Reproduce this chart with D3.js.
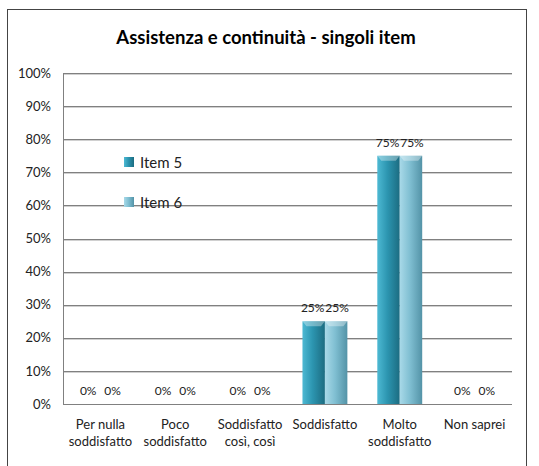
<!DOCTYPE html>
<meta charset="utf-8">
<style>
body { margin: 0; background: #fff; }
text { font-family: Lato, "Liberation Sans", sans-serif; fill: #222; }
.grid line { stroke: #808080; shape-rendering: crispEdges; }
.grid .shadow { stroke: #d0d0d0; }
</style>
<body>
<script src="https://cdn.jsdelivr.net/npm/d3@7"></script>
<script>

// data
var categories = [["Per nulla", "soddisfatto"], ["Poco", "soddisfatto"], ["Soddisfatto", "così, così"],
                  ["Soddisfatto"], ["Molto", "soddisfatto"], ["Non saprei"]];
var seriesNames = ["Item 5", "Item 6"];
var item5 = [0, 0, 0, 25, 75, 0];
var item6 = [0, 0, 0, 25, 75, 0];
var yTicks = [0, 10, 20, 30, 40, 50, 60, 70, 80, 90, 100];

var W = 539, H = 466;
var margin = {top: 73, right: 27, bottom: 62, left: 63},
    width = W - margin.left - margin.right,
    height = H - margin.top - margin.bottom;

var svg = d3.select("body").append("svg")
    .attr("width", W)
    .attr("height", H);

// gradients for the cylinder look
var defs = svg.append("defs");
var grads = [
  ["g0", ["#4db9d3", "#2c95b0", "#1c6c81"]],
  ["g1", ["#a8d9e8", "#80bfd2", "#5393a7"]]
];
grads.forEach(function(g) {
  var lg = defs.append("linearGradient").attr("id", g[0])
      .attr("x1", "0%").attr("x2", "100%").attr("y1", "0%").attr("y2", "0%");
  lg.append("stop").attr("offset", "0%").attr("stop-color", g[1][0]);
  lg.append("stop").attr("offset", "45%").attr("stop-color", g[1][1]);
  lg.append("stop").attr("offset", "100%").attr("stop-color", g[1][2]);
});

// outer frame
svg.append("rect")
    .attr("x", 7.5).attr("y", 9.5)
    .attr("width", 519).attr("height", 470)
    .attr("fill", "none")
    .attr("stroke", "#444");

// title
svg.append("text")
    .attr("x", 266).attr("y", 44)
    .attr("text-anchor", "middle")
    .style("font-size", "18.5px")
    .style("font-weight", "bold")
    .style("fill", "#000")
    .text("Assistenza e continuità - singoli item");

var g = svg.append("g")
    .attr("transform", "translate(" + margin.left + "," + margin.top + ")");

var x0 = d3.scaleBand()
    .domain(d3.range(categories.length))
    .range([0, width])
    .paddingInner(0).paddingOuter(0);

var x1 = d3.scaleBand()
    .domain(d3.range(seriesNames.length))
    .range([x0.bandwidth() * 0.2, x0.bandwidth() * 0.8]);

var y = d3.scaleLinear()
    .domain([0, 100])
    .range([height, 0]);

// gridlines
var grid = g.append("g").attr("class", "grid");
grid.selectAll(".shadow")
    .data(yTicks.slice(1))
    .enter().append("line")
    .attr("class", "shadow")
    .attr("x1", 0).attr("x2", width)
    .attr("y1", function(d) { return Math.round(y(d)) + 1.5; })
    .attr("y2", function(d) { return Math.round(y(d)) + 1.5; });
grid.selectAll(".main")
    .data(yTicks)
    .enter().append("line")
    .attr("class", "main")
    .attr("x1", 0).attr("x2", width)
    .attr("y1", function(d) { return Math.round(y(d)) + 0.5; })
    .attr("y2", function(d) { return Math.round(y(d)) + 0.5; });
grid.append("line")
    .attr("x1", 0.5).attr("x2", 0.5)
    .attr("y1", 0).attr("y2", height);

// y axis labels
var yAxis = g.append("g")
    .call(d3.axisLeft(y).tickValues(yTicks).tickSize(0).tickPadding(12)
        .tickFormat(function(d) { return d + "%"; }));
yAxis.select(".domain").remove();
yAxis.selectAll("text").style("font-size", "13px").style("fill", "#222")
    .style("font-family", "Lato, sans-serif");

// bars
var series = [item5, item6];
var groups = g.selectAll(".cat")
    .data(categories.map(function(c, i) { return i; }))
    .enter().append("g")
    .attr("class", "cat")
    .attr("transform", function(i) { return "translate(" + x0(i) + ",0)"; });

groups.selectAll("rect")
    .data(function(i) { return series.map(function(s, k) { return {k: k, v: s[i]}; }); })
    .enter().append("rect")
    .attr("x", function(d) { return x1(d.k); })
    .attr("width", x1.bandwidth())
    .attr("y", function(d) { return y(d.v); })
    .attr("height", function(d) { return height - y(d.v); })
    .attr("fill", function(d) { return "url(#g" + d.k + ")"; });

// top bevel highlight
groups.selectAll(".cap")
    .data(function(i) { return series.map(function(s, k) { return {k: k, v: s[i]}; }).filter(function(d) { return d.v > 0; }); })
    .enter().append("path")
    .attr("class", "cap")
    .attr("d", function(d) {
      var xa = x1(d.k), w = x1.bandwidth(), t = y(d.v);
      return "M" + xa + "," + t + "L" + (xa + w) + "," + t +
             "L" + (xa + w - 4) + "," + (t + 5) + "L" + (xa + 4) + "," + (t + 5) + "Z";
    })
    .attr("fill", "#fff")
    .attr("fill-opacity", 0.35);

// value labels
groups.selectAll(".lbl")
    .data(function(i) { return series.map(function(s, k) { return {k: k, v: s[i]}; }); })
    .enter().append("text")
    .attr("class", "lbl")
    .attr("x", function(d) { return x1(d.k) + x1.bandwidth() / 2 + (d.k === 0 ? -1 : 1); })
    .attr("y", function(d) { return y(d.v) - 9; })
    .attr("text-anchor", "middle")
    .style("font-size", "12px")
    .text(function(d) { return d.v + "%"; });

// x labels
var xl = g.selectAll(".xl")
    .data(categories)
    .enter().append("text")
    .attr("class", "xl")
    .attr("text-anchor", "middle")
    .attr("transform", function(c, i) { return "translate(" + (x0(i) + x0.bandwidth() / 2) + "," + (height + 25) + ")"; })
    .style("font-size", "13px");
xl.selectAll("tspan")
    .data(function(c) { return c; })
    .enter().append("tspan")
    .attr("x", 0)
    .attr("dy", function(d, j) { return j === 0 ? 0 : 17; })
    .text(function(d) { return d; });

// legend
var legend = svg.append("g")
    .selectAll("g")
    .data(seriesNames)
    .enter().append("g")
    .attr("transform", function(d, i) { return "translate(124," + (157 + i * 40) + ")"; });
legend.append("rect")
    .attr("width", 10).attr("height", 10)
    .attr("fill", function(d, i) { return "url(#g" + i + ")"; });
legend.append("text")
    .attr("x", 16).attr("y", 10.5)
    .style("font-size", "15px")
    .text(function(d) { return d; });

</script>
</body>
